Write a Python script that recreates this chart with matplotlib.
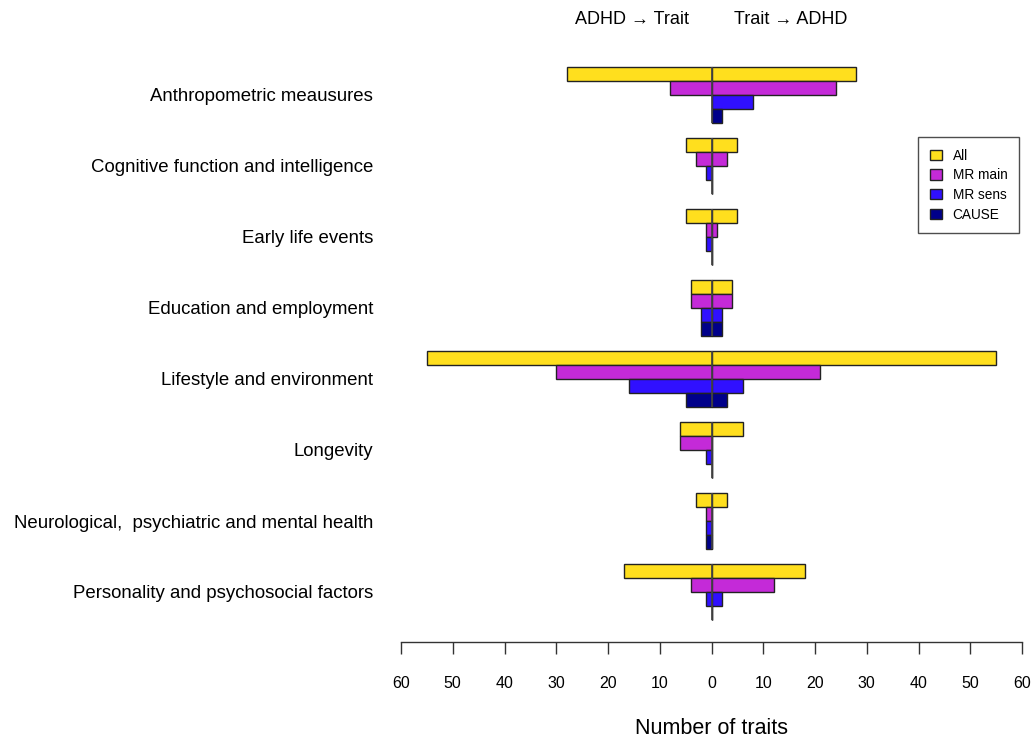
import matplotlib
matplotlib.use('Agg')
import matplotlib.pyplot as plt
from matplotlib.patches import Patch
import numpy as np

plt.rcParams['font.family'] = ['Liberation Sans', 'DejaVu Sans']

categories = [
    "Anthropometric meausures",
    "Cognitive function and intelligence",
    "Early life events",
    "Education and employment",
    "Lifestyle and environment",
    "Longevity",
    "Neurological,  psychiatric and mental health",
    "Personality and psychosocial factors",
]
series = ["All", "MR main", "MR sens", "CAUSE"]

# ADHD -> Trait (left side)
all_left = [28, 5, 5, 4, 55, 6, 3, 17]
mrmain_left = [8, 3, 1, 4, 30, 6, 1, 4]
mrsens_left = [0, 1, 1, 2, 16, 1, 1, 1]
cause_left = [0, 0, 0, 2, 5, 0, 1, 0]
# Trait -> ADHD (right side)
all_right = [28, 5, 5, 4, 55, 6, 3, 18]
mrmain_right = [24, 3, 1, 4, 21, 0, 0, 12]
mrsens_right = [8, 0, 0, 2, 6, 0, 0, 2]
cause_right = [2, 0, 0, 2, 3, 0, 0, 0]

tick_values = [-60, -50, -40, -30, -20, -10, 0, 10, 20, 30, 40, 50, 60]
tick_labels = ["60", "50", "40", "30", "20", "10", "0", "10", "20", "30", "40", "50", "60"]

colors = ["#FFDF1E", "#C42AD8", "#3010FF", "#00008A"]
left_vals = [all_left, mrmain_left, mrsens_left, cause_left]
right_vals = [all_right, mrmain_right, mrsens_right, cause_right]

W, H = 1034, 743
fig = plt.figure(figsize=(W / 100, H / 100), dpi=100)
ax = fig.add_axes([401 / W, (H - 642) / H, 621 / W, (642 - 45.3) / H])

ypos = np.arange(len(categories))
h = 0.2
offsets = [-0.3, -0.1, 0.1, 0.3]
for j in range(4):
    yy = ypos + offsets[j]
    lv = np.array(left_vals[j])
    rv = np.array(right_vals[j])
    ax.barh(yy, -lv, height=h, left=0, color=colors[j], edgecolor="#222222", linewidth=1.0, zorder=2)
    ax.barh(yy, rv, height=h, left=0, color=colors[j], edgecolor="#222222", linewidth=1.0, zorder=2)

ax.vlines(np.zeros(len(categories)), ypos - 0.4, ypos + 0.4, color="#444444", linewidth=1.2, zorder=3)

ax.set_xlim(-60, 60)
ax.set_ylim(642 / 71 - 95 / 71, -0.7)
for s in ["top", "right", "left"]:
    ax.spines[s].set_visible(False)
ax.spines["bottom"].set_color("#333333")
ax.spines["bottom"].set_linewidth(1.0)

ax.set_xticks(tick_values)
ax.set_xticklabels(tick_labels, fontsize=11.5)
ax.tick_params(axis="x", direction="out", length=8.6, width=1.0, color="#333333", pad=16)

ax.set_yticks(ypos)
ax.set_yticklabels(categories, fontsize=13.4)
ax.tick_params(axis="y", length=0, pad=20)

ax.set_xlabel("Number of traits", fontsize=15.5, labelpad=19)

fig.text(632 / W, 1 - 20 / H, "ADHD \u2192 Trait", ha="center", va="center", fontsize=13)
fig.text(791 / W, 1 - 20 / H, "Trait \u2192 ADHD", ha="center", va="center", fontsize=13)

handles = [Patch(facecolor=c, edgecolor="#222222", linewidth=1.0) for c in colors]
leg = fig.legend(handles, series, loc="upper left", bbox_to_anchor=(918 / W, 1 - 137 / H),
                 frameon=True, fancybox=False, edgecolor="#222222", fontsize=9.8,
                 handlelength=0.9, handleheight=0.8, handletextpad=0.8,
                 labelspacing=0.42, borderpad=0.85, borderaxespad=0)
leg.get_frame().set_linewidth(1.0)

fig.savefig("out.png", dpi=100)
